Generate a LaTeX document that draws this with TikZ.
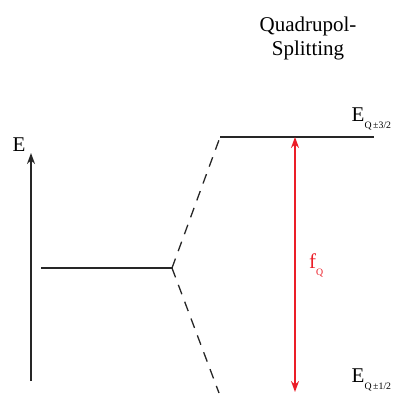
\documentclass[tikz,border=0pt]{standalone}
\usepackage{fontspec}
\setmainfont{Liberation Serif}
\usetikzlibrary{arrows.meta}
\definecolor{qred}{RGB}{235,30,40}
\newcommand{\bigtxt}{\fontsize{21}{24}\selectfont}
\newcommand{\subtxt}[1]{\raisebox{-7pt}{\fontsize{9.8}{12}\selectfont #1}}
\tikzset{
  level/.style={line width=1.6pt, black!85},
  dashline/.style={line width=1.3pt, black!85, dash pattern=on 10pt off 8pt},
  axisarrow/.style={line width=1.6pt, black!85, -{Stealth[length=11pt,width=8pt]}},
  splitarrow/.style={line width=1.6pt, qred, {Stealth[length=11pt,width=8pt]}-{Stealth[length=11pt,width=8pt]}},
  lbl/.style={inner sep=0pt, anchor=base west, font=\bigtxt},
}
\begin{document}
\begin{tikzpicture}[x=1pt,y=-1pt]
\useasboundingbox (0,0) rectangle (393,394);
% title
\node[inner sep=0pt, anchor=base, font=\bigtxt] (t1) at (308,31) {Quadrupol-};
\node[inner sep=0pt, anchor=base, font=\bigtxt] (t2) at (308,55) {Splitting};
% energy axis
\coordinate (axb) at (31,381);
\coordinate (axt) at (31,153);
\draw[axisarrow] (axb) -- (axt);
\node[lbl] (E) at (12.5,151) {E};
% unsplit level
\coordinate (l0a) at (41,268);
\coordinate (j) at (172,268);
\draw[level] (l0a) -- (j);
% split levels
\coordinate (u0) at (220,137);
\coordinate (u1) at (374,137);
\draw[level] (u0) -- (u1);
\coordinate (du) at (219,140);
\coordinate (dl) at (219,393);
\draw[dashline] (j) -- (du);
\draw[dashline] (j) -- (dl);
% splitting arrow
\coordinate (ra) at (295,137);
\coordinate (rb) at (295,392);
\draw[splitarrow] (rb) -- (ra);
\node[lbl, text=qred] (fq) at (309,268) {f\subtxt{Q}};
% labels
\node[lbl] (E32) at (351.5,121) {E\subtxt{Q\,±3/2}};
\node[lbl] (E12) at (351.5,382) {E\subtxt{Q\,±1/2}};
\end{tikzpicture}
\end{document}
